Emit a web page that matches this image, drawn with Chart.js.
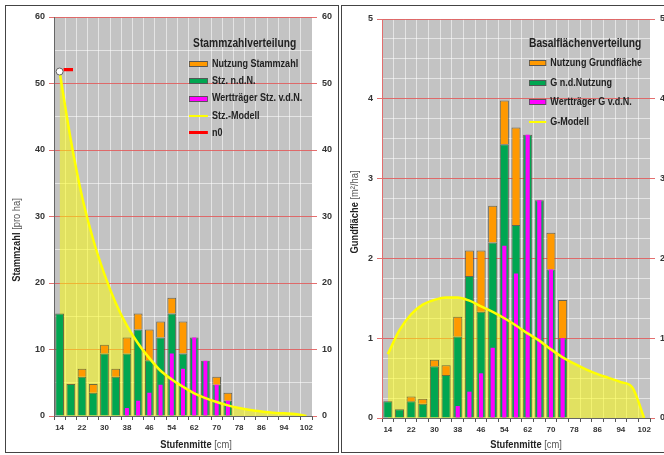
<!DOCTYPE html>
<html>
<head>
<meta charset="utf-8">
<script src="https://cdn.jsdelivr.net/npm/chart.js@4.4.1/dist/chart.umd.min.js"></script>
<style>
body { margin: 0; width: 664px; height: 455px; overflow: hidden; background: #fff; position: relative; }
.panel { position: absolute; top: 5px; height: 448px; border: 1px solid #444; box-sizing: border-box; }
#p1 { left: 5px; width: 334px; }
#p2 { left: 341px; width: 340px; }
canvas { position: absolute; top: 0; }
#c1 { left: 0; }
#c2 { left: 340px; }
.legend { position: absolute; font-family: "Liberation Sans", Arial, sans-serif; font-weight: bold; color: #222;
          white-space: nowrap; transform: scaleX(0.82); transform-origin: 0 0; }
.legend .lt { font-size: 12.5px; height: 14px; line-height: 14px; margin-left: 5px; }
.legend .li { font-size: 11px; }
.legend .mk { display: inline-block; width: 23px; vertical-align: middle; margin-right: 5px; box-sizing: border-box; }
.box { height: 6px; border: 1px solid #555; }
.ln { height: 2px; }
</style>
</head>
<body>
<div class="panel" id="p1"></div>
<div class="panel" id="p2"></div>
<canvas id="c1" width="340" height="455"></canvas>
<canvas id="c2" width="340" height="455"></canvas>

<div class="legend" id="lg1" style="left:189px;top:36px">
  <div class="lt">Stammzahlverteilung</div>
  <div style="height:5px"></div>
  <div class="li" style="line-height:17.2px"><span class="mk box" style="background:#ff9900"></span>Nutzung Stammzahl</div>
  <div class="li" style="line-height:17.2px"><span class="mk box" style="background:#00a651"></span>Stz. n.d.N.</div>
  <div class="li" style="line-height:17.2px"><span class="mk box" style="background:#ff00ff"></span>Wertträger Stz. v.d.N.</div>
  <div class="li" style="line-height:17.2px"><span class="mk ln" style="background:#ffff00"></span>Stz.-Modell</div>
  <div class="li" style="line-height:17.2px"><span class="mk ln" style="background:#ff0000;height:3px"></span>n0</div>
</div>

<div class="legend" id="lg2" style="left:529px;top:36px">
  <div class="lt" style="margin-left:0">Basalflächenverteilung</div>
  <div style="height:3px"></div>
  <div class="li" style="line-height:19.6px"><span class="mk box" style="background:#ff9900;width:21px"></span>Nutzung Grundfläche</div>
  <div class="li" style="line-height:19.6px"><span class="mk box" style="background:#00a651;width:21px"></span>G n.d.Nutzung</div>
  <div class="li" style="line-height:19.6px"><span class="mk box" style="background:#ff00ff;width:21px"></span>Wertträger G v.d.N.</div>
  <div class="li" style="line-height:19.6px"><span class="mk ln" style="background:#ffff00;width:21px"></span>G-Modell</div>
</div>

<script>
// Durchmesserstufen (Stufenmitte in cm)
const stufen = ['14', '18', '22', '26', '30', '34', '38', '42', '46', '50', '54', '58',
                '62', '66', '70', '74', '78', '82', '86', '90', '94', '98', '102'];

// Stammzahlverteilung [pro ha]
const nNutzung     = [0, 0, 1.2, 1.3, 1.3, 1.2, 2.4, 2.4, 4.6, 2.4, 2.4, 4.8, 0, 0, 1.2, 1.2, 0, 0, 0, 0, 0, 0, 0];
const nVerbleib    = [15.4, 4.8, 5.9, 3.5, 9.4, 5.9, 9.4, 13.0, 8.4, 11.8, 15.4, 9.4, 11.8, 8.3, 4.7, 2.3, 0, 0, 0, 0, 0, 0, 0];
const nWerttraeger = [0, 0, 0, 0, 0, 0, 1.2, 2.3, 3.5, 4.7, 9.4, 7.1, 11.8, 8.3, 4.7, 2.3, 0, 0, 0, 0, 0, 0, 0];
const nModell      = [51.8, 41.5, 33.0, 26.5, 21.3, 17.0, 13.6, 10.9, 8.7, 6.8, 5.5, 4.4, 3.4, 2.7, 2.1, 1.6, 1.2, 0.9, 0.68, 0.5, 0.4, 0.3, 0];
const nNull        = [52, null, null, null, null, null, null, null, null, null, null, null,
                      null, null, null, null, null, null, null, null, null, null, null];

// Basalflächenverteilung [m²/ha]
const gNutzung     = [0, 0, 0.06, 0.06, 0.08, 0.12, 0.25, 0.32, 0.77, 0.46, 0.55, 1.22, 0, 0, 0.46, 0.48, 0, 0, 0, 0, 0, 0, 0];
const gVerbleib    = [0.21, 0.11, 0.21, 0.18, 0.65, 0.54, 1.02, 1.78, 1.33, 2.2, 3.43, 2.42, 3.55, 2.73, 1.86, 1.0, 0, 0, 0, 0, 0, 0, 0];
const gWerttraeger = [0, 0, 0, 0, 0, 0, 0.15, 0.33, 0.56, 0.88, 2.16, 1.81, 3.55, 2.73, 1.86, 1.0, 0, 0, 0, 0, 0, 0, 0];
const gModell      = [0.8, 1.1, 1.3, 1.42, 1.48, 1.51, 1.51, 1.47, 1.4, 1.33, 1.25, 1.16, 1.06, 0.97, 0.86, 0.76, 0.68, 0.61, 0.55, 0.5, 0.45, 0.38, 0];

const FONT = '"Liberation Sans", Arial, sans-serif';
const RED = 'rgba(225,95,95,0.9)';
const WHITE = 'rgba(255,255,255,0.55)';
const BAR_EDGE = 'rgba(70,70,50,0.75)';

// grauer Plot-Hintergrund
const plotBg = {
    id: 'plotBg',
    beforeDraw(chart) {
        const a = chart.chartArea, ctx = chart.ctx;
        ctx.save();
        ctx.fillStyle = '#c3c3c3';
        ctx.fillRect(a.left, a.top, a.right - a.left, a.bottom - a.top);
        ctx.restore();
    }
};

// Achsentitel mit fettem und normalem Teil (schmal gezeichnet)
const axisTitles = {
    id: 'axisTitles',
    afterDraw(chart, args, opts) {
        const ctx = chart.ctx;
        function drawPair(parts, x, y, rot) {
            ctx.save();
            ctx.translate(x, y);
            ctx.rotate(rot);
            ctx.scale(0.85, 1);
            ctx.textBaseline = 'middle';
            ctx.font = 'bold 11px ' + FONT;
            const w1 = ctx.measureText(parts[0]).width;
            ctx.font = '11px ' + FONT;
            const w2 = ctx.measureText(parts[1]).width;
            const sx = -(w1 + w2) / 2;
            ctx.font = 'bold 11px ' + FONT;
            ctx.fillStyle = '#222';
            ctx.fillText(parts[0], sx, 0);
            ctx.font = '11px ' + FONT;
            ctx.fillStyle = '#555';
            ctx.fillText(parts[1], sx + w1, 0);
            ctx.restore();
        }
        drawPair(opts.x, opts.xPos[0], opts.xPos[1], 0);
        drawPair(opts.y, opts.yPos[0], opts.yPos[1], -Math.PI / 2);
    }
};

function isMajor(v, major) {
    const q = v / major;
    return Math.abs(q - Math.round(q)) < 1e-6;
}

function makeChart(id, s) {
    const tickFont = { family: FONT, size: 9, weight: 'bold' };
    return new Chart(document.getElementById(id).getContext('2d'), {
        type: 'bar',
        data: {
            labels: stufen,
            datasets: [{
                type: 'line',
                label: 'n0',
                data: s.n0 || [],
                stack: 'n0',
                showLine: false,
                pointStyle: s.n0Marker,
                pointRadius: 6,
                order: -1
            }, {
                type: 'line',
                label: s.names[3],
                data: s.modell,
                stack: 'modell',
                borderColor: '#ffff00',
                borderWidth: 2.5,
                backgroundColor: 'rgba(255,255,0,0.5)',
                fill: 'origin',
                cubicInterpolationMode: 'monotone',
                pointRadius: ctx => (s.n0 && ctx.dataIndex === 0) ? 3.5 : 0,
                pointBackgroundColor: '#ffffff',
                pointBorderColor: '#666',
                pointBorderWidth: 1,
                order: 0
            }, {
                label: s.names[2],
                data: s.wert,
                stack: 'm',
                grouped: false,
                backgroundColor: '#ff00ff',
                borderWidth: 0,
                barPercentage: 0.36,
                categoryPercentage: 1,
                order: 1
            }, {
                label: s.names[1],
                data: s.verbleib,
                stack: 'a',
                backgroundColor: '#00a651',
                borderColor: BAR_EDGE,
                borderWidth: 1,
                barPercentage: 0.78,
                categoryPercentage: 1,
                order: 2
            }, {
                label: s.names[0],
                data: s.nutzung,
                stack: 'a',
                backgroundColor: '#ff9900',
                borderColor: BAR_EDGE,
                borderWidth: 1,
                barPercentage: 0.78,
                categoryPercentage: 1,
                order: 2
            }]
        },
        options: {
            responsive: false,
            animation: false,
            devicePixelRatio: 1,
            layout: { padding: { top: s.top, left: 0, right: 0, bottom: 0 } },
            plugins: {
                legend: { display: false },
                tooltip: { enabled: false },
                filler: { propagate: false, drawTime: 'beforeDatasetsDraw' },
                axisTitles: { x: ['Stufenmitte', ' [cm]'], y: s.yTitle, xPos: s.xTitlePos, yPos: s.yTitlePos }
            },
            scales: {
                x: {
                    stacked: true,
                    afterFit: sc => { sc.height = s.xHeight; },
                    grid: { color: WHITE, lineWidth: 1, tickLength: 4, tickColor: '#555', offset: true },
                    border: { color: '#666' },
                    ticks: {
                        autoSkip: false, maxRotation: 0, padding: 3,
                        color: '#333', font: { family: FONT, size: 8, weight: 'bold' },
                        callback: function (v, i) { return i % 2 === 0 ? this.getLabelForValue(v) : ''; }
                    }
                },
                y: {
                    stacked: true,
                    min: 0, max: s.max,
                    afterFit: sc => { sc.width = s.yWidth; },
                    grid: {
                        lineWidth: 1, tickLength: 5,
                        color: c => isMajor(c.tick.value, s.major) ? RED : WHITE,
                        tickColor: c => isMajor(c.tick.value, s.major) ? RED : 'rgba(0,0,0,0)'
                    },
                    border: { color: s.yBorder },
                    ticks: {
                        stepSize: s.step, padding: 4, color: '#333', font: tickFont,
                        callback: v => isMajor(v, s.major) ? String(v) : ''
                    }
                },
                y2: {
                    position: 'right',
                    min: 0, max: s.max,
                    afterFit: sc => { sc.width = s.y2Width; },
                    grid: {
                        drawOnChartArea: false, tickLength: 5,
                        tickColor: c => isMajor(c.tick.value, s.major) ? RED : 'rgba(0,0,0,0)'
                    },
                    border: { display: false },
                    ticks: {
                        stepSize: s.step, padding: 5, color: '#333', font: tickFont,
                        callback: v => isMajor(v, s.major) ? String(v) : ''
                    }
                }
            }
        },
        plugins: [plotBg, axisTitles]
    });
}

// rote n0-Markierung rechts neben dem Startpunkt
const n0Marker = document.createElement('canvas');
n0Marker.width = 26;
n0Marker.height = 4;
const mctx = n0Marker.getContext('2d');
mctx.fillStyle = '#ff0000';
mctx.fillRect(17, 0, 9, 3);

makeChart('c1', {
    names: ['Nutzung Stammzahl', 'Stz. n.d.N.', 'Wertträger Stz. v.d.N.', 'Stz.-Modell'],
    nutzung: nNutzung, verbleib: nVerbleib, wert: nWerttraeger, modell: nModell,
    n0: nNull, n0Marker: n0Marker,
    max: 60, step: 5, major: 10,
    top: 17, xHeight: 39, yWidth: 54, y2Width: 28,
    yBorder: '#666',
    yTitle: ['Stammzahl', ' [pro ha]'], yTitlePos: [17, 240], xTitlePos: [196, 445]
});

makeChart('c2', {
    names: ['Nutzung Grundfläche', 'G n.d.Nutzung', 'Wertträger G v.d.N.', 'G-Modell'],
    nutzung: gNutzung, verbleib: gVerbleib, wert: gWerttraeger, modell: gModell,
    n0: null, n0Marker: 'circle',
    max: 5, step: 0.25, major: 1,
    top: 19, xHeight: 37, yWidth: 42, y2Width: 30,
    yBorder: RED,
    yTitle: ['Gundfläche', ' [m²/ha]'], yTitlePos: [15, 212], xTitlePos: [186, 445]
});
</script>
</body>
</html>
